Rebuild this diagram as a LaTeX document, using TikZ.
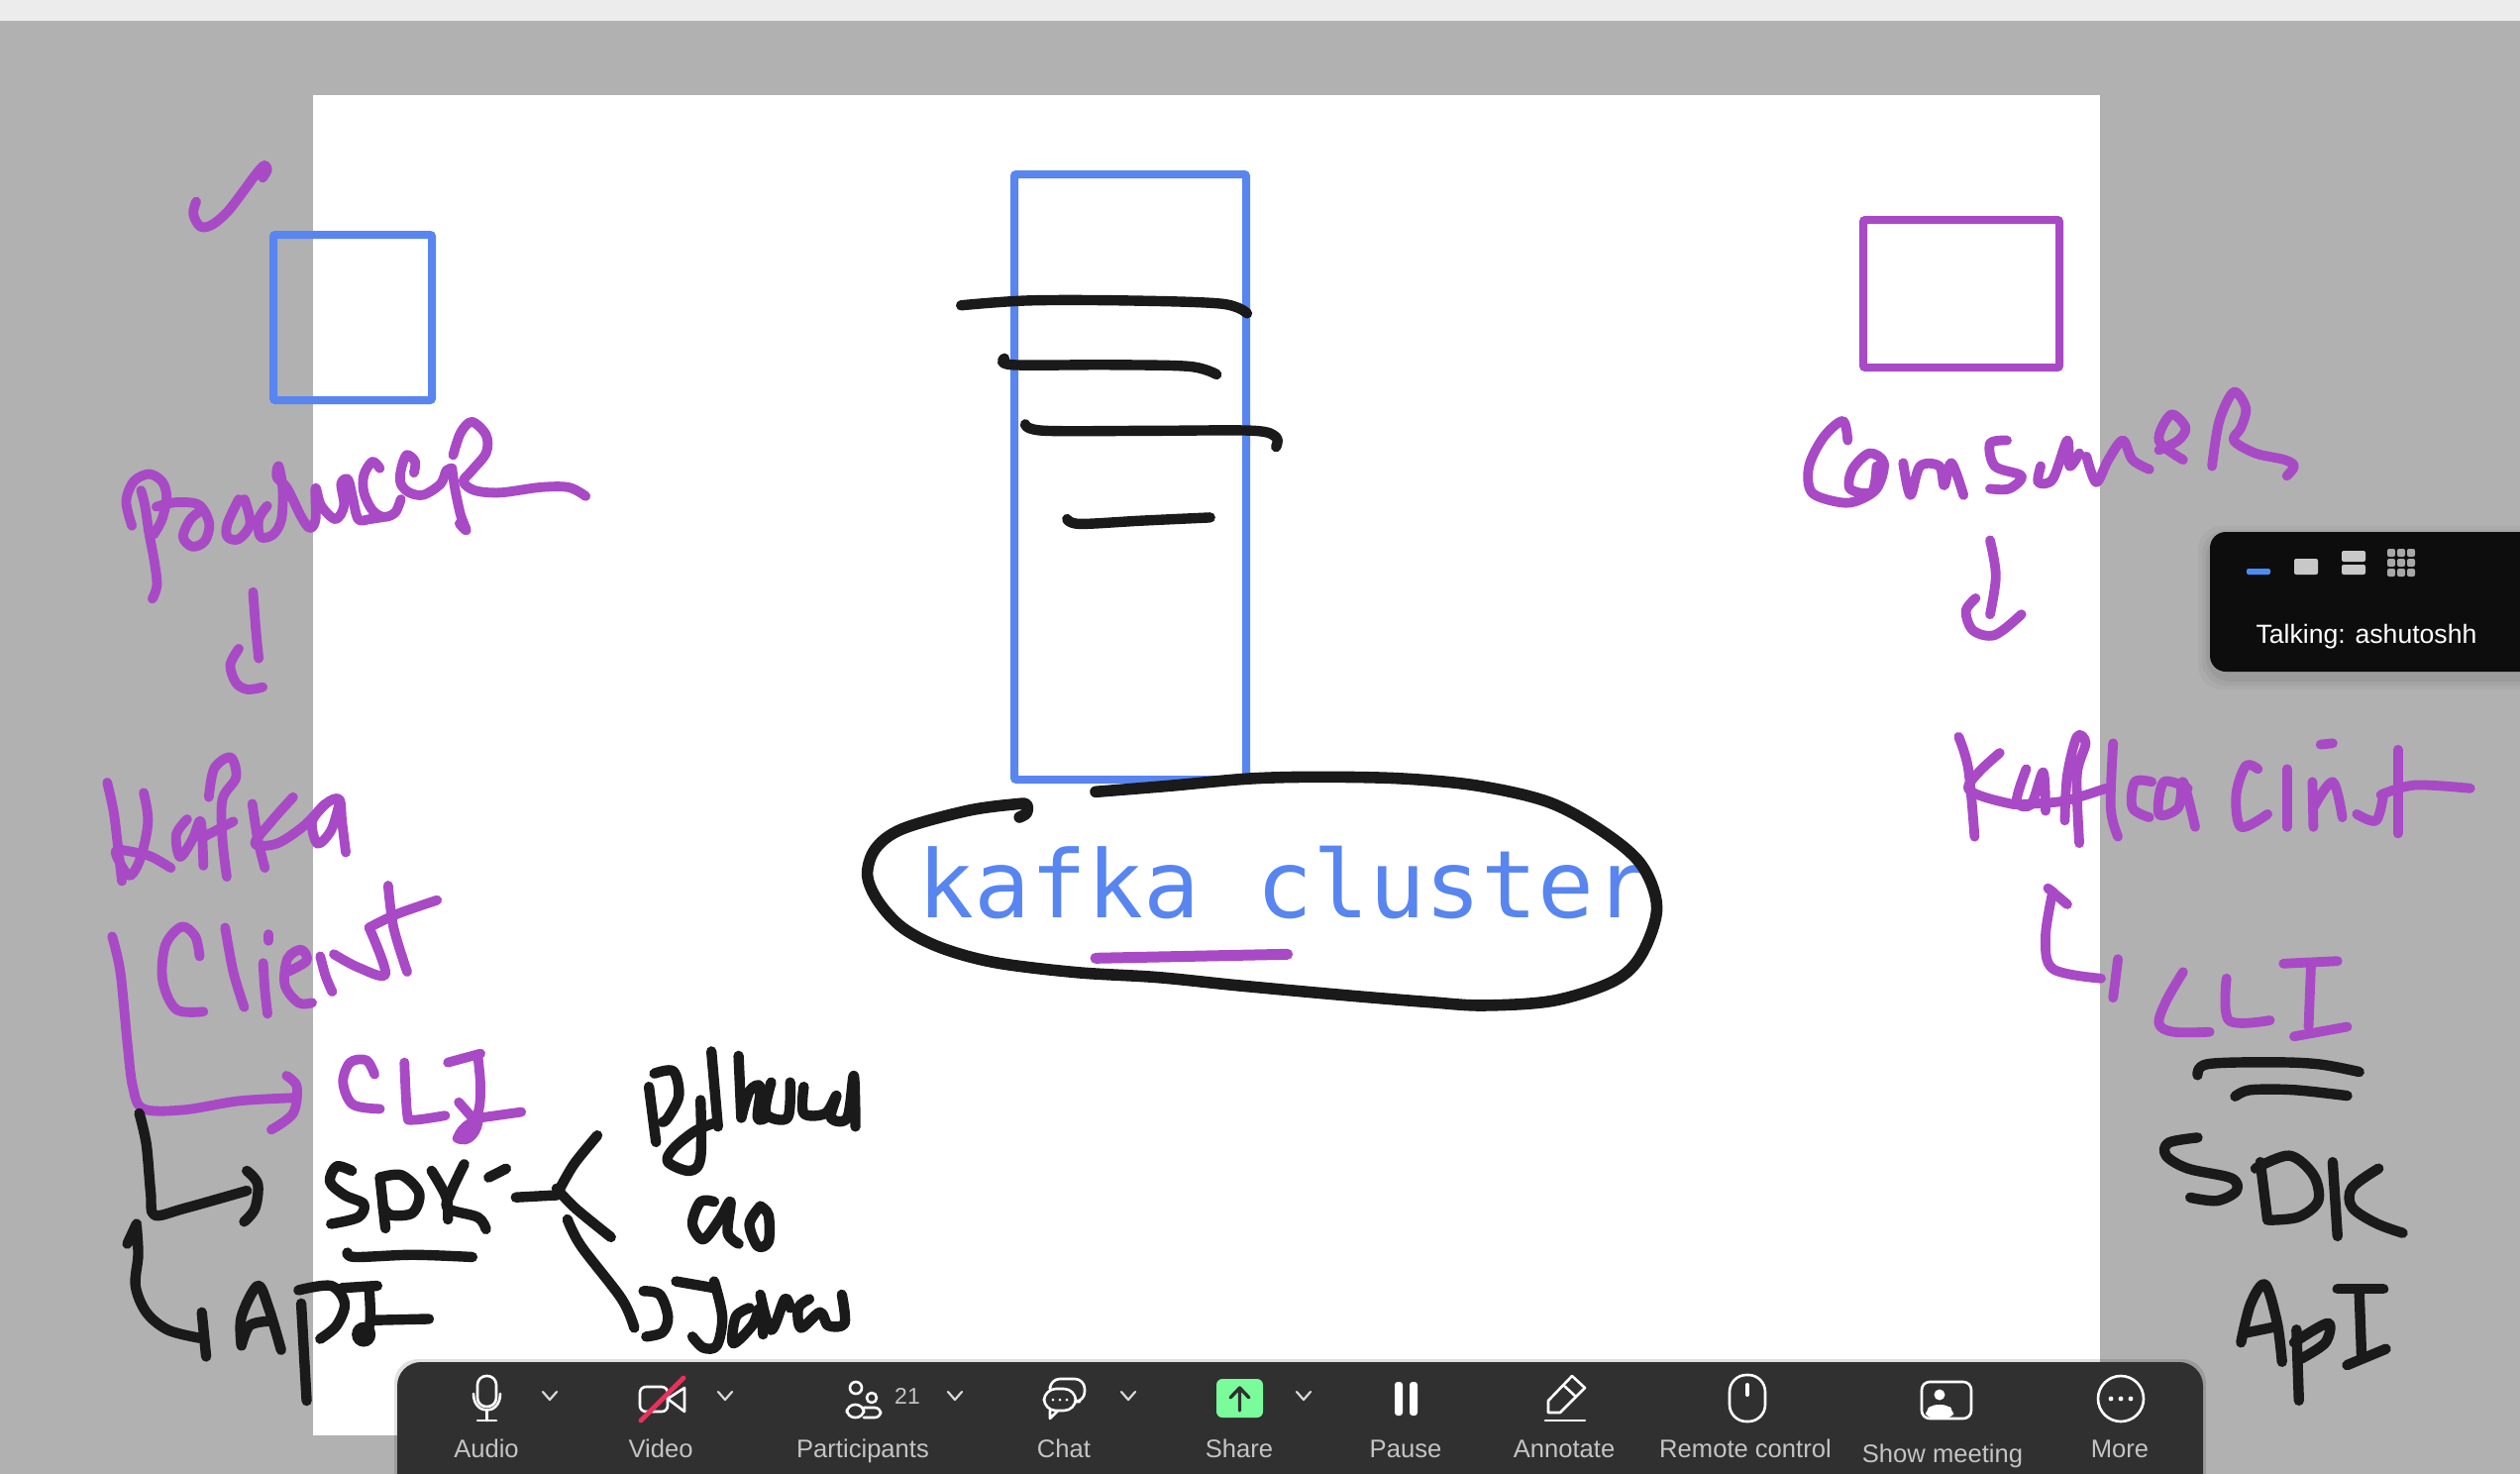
\documentclass[tikz,border=0pt]{standalone}
\usepackage{fontspec}
\setmainfont{Liberation Sans}
\newfontfamily\monofam{DejaVu Sans Mono}
\definecolor{pgray}{HTML}{B1B1B1}
\definecolor{topbar}{HTML}{ECECEC}
\definecolor{inkblue}{HTML}{5885EF}
\definecolor{inkpurple}{HTML}{A84AC5}
\definecolor{inkblack}{HTML}{1A1A1A}
\definecolor{barbg}{HTML}{303030}
\definecolor{barlabel}{HTML}{C4C4C4}
\definecolor{slash}{HTML}{E8315A}
\definecolor{sharegreen}{HTML}{7BFC9B}
\definecolor{tbg}{HTML}{0D0D0D}
\definecolor{tblue}{HTML}{4A8CF7}
\definecolor{tlight}{HTML}{C8C8C8}
\definecolor{tgrid}{HTML}{A8A8A8}
\tikzset{
  inkbase/.style={line cap=round,line join=round,fill=none},
  pur/.style={inkbase,draw=inkpurple,line width=4.9pt},
  blk/.style={inkbase,draw=inkblack,line width=5.2pt},
  boxblue/.style={draw=inkblue,line width=4pt,rounded corners=1pt},
  boxpur/.style={draw=inkpurple,line width=4pt,rounded corners=1pt},
  barlbl/.style={text=barlabel,font=\fontsize{12.8}{15}\selectfont,inner sep=0pt,anchor=base},
  icon/.style={draw=white,line width=1.3pt,fill=none,line cap=round,line join=round},
  chev/.style={draw=white!85!black,line width=1.1pt,fill=none,line cap=round,line join=round},
  zoomA/.style={shift={(0,100)},xscale=.574,yscale=.4464},
  zoomB/.style={shift={(60,740)},xscale=.5485,yscale=.4464},
  zoomC/.style={shift={(1780,360)},xscale=.4872,yscale=.6505},
  zoomE/.style={shift={(840,750)},xscale=.5485,yscale=.3333},
  disp/.style={scale=1.6224}
}
\newcommand{\pst}[1]{\draw[pur] plot[smooth,tension=.55] coordinates {#1};}
\newcommand{\bst}[1]{\draw[blk] plot[smooth,tension=.55] coordinates {#1};}
\begin{document}
\begin{tikzpicture}[x=0.5pt,y=-0.5pt]
\useasboundingbox (0,0) rectangle (2544,1488);
\fill[pgray] (0,0) rectangle (2544,1488);
\fill[topbar] (0,0) rectangle (2544,21);
\fill[white] (316,96) rectangle (2120,1449);
% boards
\draw[boxblue] (276,237) rectangle (436,404);
\draw[boxblue] (1024,176) rectangle (1258,787);
\draw[boxpur] (1881,222) rectangle (2079,371);
% kafka cluster
\node[anchor=base west,inner sep=0pt,text=inkblue,font=\monofam\fontsize{47.3}{50}\selectfont] (cluster) at (926,926) {kafka cluster};
% lines inside the tall box
\begin{scope}[disp]
\bst{(598,190)(640,187)(700,187)(760,189)(776,195)}
\bst{(625,223)(630,227)(690,227)(740,228)(757,233)}
\bst{(638,264)(650,268)(720,268)(780,268)(794,272)(794,278)}
\bst{(664,323)(672,326)(710,324)(753,322)}
\end{scope}
% ellipse
\begin{scope}[zoomE]
\draw[inkbase,draw=inkpurple,line width=5.5pt] (485,652) -- (838,640);
\draw[blk,line width=5.8pt] plot[smooth,tension=.55] coordinates {(345,225)(358,212)(358,187)(340,185)(250,205)(130,260)(80,320)(65,400)(85,480)(130,560)(200,620)(300,665)(450,695)(600,710)(750,735)(950,765)(1100,785)(1200,795)(1330,780)(1440,720)(1490,640)(1518,500)(1490,370)(1420,270)(1320,180)(1190,130)(1050,108)(900,103)(770,108)(620,130)(485,148)};
\end{scope}
% check mark, Producer
\begin{scope}[zoomA]
\pst{(345,232)(340,260)(352,288)(372,285)(400,255)(430,205)(450,170)(465,150)(470,160)(462,178)}
\pst{(232,965)(222,910)(235,865)(262,848)(285,865)(293,900)(285,950)(270,985)}
\pst{(248,885)(255,920)(262,980)(272,1050)(276,1100)(268,1130)}
\pst{(275,922)(310,912)(350,918)(368,960)(360,1000)(338,1012)(322,990)(335,950)(355,930)}
\pst{(420,905)(400,960)(400,990)(420,995)(440,960)(430,905)}
\pst{(470,920)(455,950)(458,990)(480,985)(495,950)(497,880)(490,830)(487,855)(505,880)(530,945)(545,970)(555,950)(555,880)(565,920)(590,950)(605,920)(600,870)(612,860)(620,900)(630,950)(650,950)(675,945)}
\pst{(668,835)(655,820)(640,850)(640,890)(655,930)(675,945)(695,935)(705,905)}
\pst{(728,845)(730,820)(715,805)(705,840)(705,870)(720,890)(745,895)(775,870)(785,840)(795,835)}
\pst{(795,835)(800,880)(810,940)(820,975)(808,960)}
\pst{(797,805)(810,755)(830,730)(855,760)(855,800)(830,840)(815,865)(835,885)(880,890)(950,878)(1000,878)(1030,898)}
\pst{(445,1115)(450,1200)(455,1265)}
\pst{(420,1243)(405,1280)(415,1320)(435,1335)(462,1330)}
\end{scope}
% left column
\begin{scope}[zoomB]
% Kafka
\pst{(88,112)(100,180)(108,260)(115,335)}
\pst{(155,135)(163,200)(150,280)(130,322)(110,290)(105,265)(140,270)(170,280)(205,305)}
\pst{(235,195)(215,230)(222,280)(245,240)(260,200)(265,300)}
\pst{(275,145)(285,80)(315,55)(325,100)(300,150)(300,240)(308,325)}
\pst{(265,235)(320,200)}
\pst{(355,160)(365,240)(378,305)}
\pst{(430,145)(390,200)(360,250)(400,250)(450,210)(490,160)(515,150)(520,200)(527,270)}
\pst{(490,160)(465,200)(475,250)(500,220)(515,160)}
% Client
\pst{(258,505)(250,460)(225,438)(195,480)(190,560)(215,625)(265,630)}
\pst{(305,440)(320,540)(340,620)}
\pst{(385,455)(385,470)}
\pst{(375,520)(378,580)(383,635)}
\pst{(420,540)(455,515)(445,490)(420,510)(415,570)(440,610)(465,610)}
\pst{(480,505)(490,550)(502,585)}
\pst{(505,500)(550,530)(600,545)(570,440)}
\pst{(605,345)(615,440)(640,540)}
\pst{(570,440)(620,410)(695,378)}
% CLI arrow
\pst{(97,460)(112,540)(125,700)(135,800)(155,850)(230,852)(330,832)(430,825)}
\pst{(418,775)(437,800)(430,860)(390,897)}
\pst{(580,772)(565,740)(535,745)(522,790)(540,840)(590,850)}
\pst{(635,745)(640,860)(650,875)(710,865)}
\pst{(715,745)(775,725)}
\pst{(770,730)(775,800)(770,860)(745,905)}
\pst{(735,835)(760,870)}
\pst{(775,870)(850,857)}
\fill[inkpurple] (725,910) .. controls (735,880) and (760,860) .. (780,870) .. controls (780,905) and (760,935) .. (740,930) .. controls (725,928) and (720,920) .. (725,910) -- cycle;
% SDK arrow
\bst{(147,860)(160,930)(168,1040)(175,1090)(230,1075)(345,1035)}
\bst{(345,990)(365,1020)(360,1075)(340,1105)}
\bst{(538,990)(510,980)(498,1015)(525,1045)(560,1065)(550,1095)(500,1110)}
\bst{(590,1005)(600,1120)}
\bst{(590,1005)(630,1000)(662,1040)(650,1085)(610,1090)(595,1070)}
\bst{(685,990)(712,1050)(715,1100)}
\bst{(745,975)(720,1040)(715,1075)(770,1095)(785,1122)}
\bst{(790,1005)(822,985)}
\bst{(840,1050)(915,1045)}
\bst{(915,1045)(930,1010)(950,970)(990,910)}
\bst{(915,1030)(950,1075)(1015,1140)}
\bst{(935,1100)(960,1160)(1035,1280)(1058,1345)}
\bst{(530,1175)(545,1185)(650,1180)(760,1185)}
% Python
\bst{(1085,800)(1098,925)}
\bst{(1095,770)(1130,765)(1140,820)(1120,870)(1110,880)}
\bst{(1180,830)(1180,960)(1160,990)(1120,970)(1130,940)(1170,900)(1210,880)}
\bst{(1200,720)(1212,890)}
\bst{(1250,730)(1255,870)}
\bst{(1255,870)(1270,810)(1290,800)(1285,870)(1300,870)}
\bst{(1310,790)(1300,860)(1340,870)(1345,790)}
\bst{(1370,800)(1370,860)(1410,860)(1430,820)(1420,870)(1450,870)(1462,775)(1465,890)}
% Go
\bst{(1205,1060)(1180,1060)(1165,1110)(1185,1145)(1215,1100)(1235,1060)(1230,1130)(1250,1155)}
\bst{(1290,1070)(1270,1110)(1285,1160)(1305,1150)(1305,1090)(1290,1070)}
% Java
\bst{(1075,1262)(1105,1270)(1120,1320)(1110,1355)(1080,1365)}
\bst{(1135,1240)(1205,1255)}
\bst{(1205,1240)(1220,1320)(1210,1385)(1185,1390)(1165,1365)}
\bst{(1270,1300)(1245,1320)(1240,1380)(1275,1340)(1290,1300)(1295,1360)}
\bst{(1290,1270)(1310,1350)(1335,1280)(1345,1300)}
\bst{(1380,1280)(1360,1300)(1365,1345)(1400,1310)(1415,1340)(1445,1335)(1440,1270)}
% API
\bst{(142,1115)(145,1180)(140,1250)(160,1310)(200,1350)(258,1368)}
\bst{(125,1155)(142,1110)}
\bst{(262,1310)(270,1410)}
\bst{(335,1385)(335,1320)(365,1250)(385,1300)(408,1395)}
\bst{(335,1385)(350,1340)(385,1330)}
\bst{(445,1290)(450,1400)(455,1510)}
\bst{(440,1260)(500,1250)(525,1290)(510,1340)(480,1370)}
\bst{(520,1255)(585,1250)}
\bst{(570,1255)(572,1330)(560,1375)}
\bst{(572,1328)(680,1325)}
\fill[inkblack] (560,1360) ellipse (22 and 28);
\end{scope}
% right column
\begin{scope}[zoomC]
% Consumer
\pst{(175,130)(165,100)(125,125)(95,170)(100,210)(150,225)(190,225)(235,205)(250,165)(220,150)(185,175)(180,205)(225,210)(235,170)}
\pst{(290,165)(305,215)(325,170)(365,170)(375,200)(390,165)(415,215)}
\pst{(505,130)(470,135)(480,170)(535,185)(510,205)(470,205)}
\pst{(575,170)(570,195)(600,190)(630,130)(635,170)(655,150)}
\pst{(670,155)(690,195)(715,160)(745,130)(765,160)(800,175)}
\pst{(820,145)(860,130)(875,110)(845,90)(820,130)(870,160)}
\pst{(930,170)(945,100)(975,55)(1000,80)(990,110)(975,130)(1020,150)(1080,160)(1100,170)(1085,185)}
\pst{(470,285)(482,340)(470,400)}
\pst{(440,375)(420,395)(435,425)(480,432)(535,400)}
% Kafka Client
\pst{(405,590)(425,640)(438,745)}
\pst{(490,615)(425,670)(520,695)}
\pst{(545,640)(525,690)(555,695)(580,645)(585,705)}
\pst{(625,720)(630,650)(650,590)(668,600)(650,650)(655,755)}
\pst{(520,695)(620,690)(710,670)}
\pst{(725,600)(720,700)(735,745)}
\pst{(805,660)(770,660)(765,700)(800,715)}
\pst{(880,670)(830,660)(820,710)(860,700)(870,660)(895,730)}
\pst{(1025,640)(1000,635)(980,680)(990,730)(1045,710)}
\pst{(1085,640)(1085,730)}
\pst{(1155,602)(1180,600)}
\pst{(1138,660)(1140,730)}
\pst{(1140,700)(1180,660)(1200,715)}
\pst{(1230,710)(1270,720)(1285,680)}
\pst{(1315,610)(1315,740)}
\pst{(1280,680)(1350,665)(1465,670)}
% hook, CLI
\pst{(590,825)(630,850)}
\pst{(600,830)(585,900)(600,950)(700,965)}
\pst{(735,935)(725,995)}
\pst{(870,955)(835,1000)(820,1035)(850,1048)(925,1048)}
\pst{(960,965)(965,1030)(1050,1030)}
\pst{(1078,942)(1190,938)}
\pst{(1135,945)(1130,1040)}
\pst{(1100,1055)(1210,1040)}
% black underlines, SDK, API
\bst{(900,1115)(920,1098)(1050,1095)(1150,1098)(1235,1110)}
\bst{(978,1148)(1010,1138)(1100,1138)(1210,1147)}
\bst{(900,1212)(840,1220)(835,1240)(880,1260)(970,1275)(980,1295)(940,1310)(885,1305)}
\bst{(1030,1250)(1045,1340)}
\bst{(1020,1260)(1090,1240)(1140,1270)(1150,1310)(1110,1335)(1050,1340)}
\bst{(1180,1250)(1190,1365)}
\bst{(1275,1260)(1220,1290)(1220,1320)(1270,1345)(1325,1360)}
\bst{(990,1530)(1010,1470)(1040,1440)(1065,1500)(1075,1560)}
\bst{(1000,1515)(1065,1505)}
\bst{(1105,1510)(1110,1620)}
\bst{(1100,1530)(1170,1500)(1165,1530)(1115,1555)}
\bst{(1190,1447)(1285,1447)}
\bst{(1235,1450)(1240,1555)}
\bst{(1210,1565)(1290,1540)}
\end{scope}
% Talking panel
\foreach \g/\o in {12/.03,8/.04,4/.05}{
  \fill[black,opacity=\o,rounded corners=12pt] (2231-\g,537-\g+6) rectangle (2580,678+\g+6);
}
\fill[tbg,rounded corners=8pt] (2231,537) rectangle (2580,678);
\fill[tblue,rounded corners=1pt] (2268,574) rectangle (2292,580);
\fill[tlight,rounded corners=1pt] (2316,564) rectangle (2340,580);
\fill[tlight,rounded corners=1pt] (2364,556) rectangle (2388,567);
\fill[tlight,rounded corners=1pt] (2364,570) rectangle (2388,580);
\foreach \i in {0,1,2}{\foreach \j in {0,1,2}{
  \fill[tgrid,rounded corners=1pt] (2410+\i*10,554+\j*10) rectangle +(8,8);
}}
\node[anchor=base,inner sep=0pt,text=white,font=\fontsize{13.3}{15}\selectfont] (talking) at (2389,649) {Talking: ashutoshh};
% toolbar
\fill[black,opacity=.12,rounded corners=12pt] (398,1372) rectangle (2227,1520);
\fill[barbg,rounded corners=12pt] (401,1375) rectangle (2224,1530);
\node[barlbl] (audio) at (491,1471) {Audio};
\node[barlbl] (video) at (667,1471) {Video};
\node[barlbl] (participants) at (871,1471) {Participants};
\node[barlbl] (chat) at (1074,1471) {Chat};
\node[barlbl] (share) at (1251,1471) {Share};
\node[barlbl] (pause) at (1419,1471) {Pause};
\node[barlbl] (annotate) at (1579,1471) {Annotate};
\node[barlbl] (remote) at (1762,1471) {Remote control};
\node[barlbl] (showm) at (1961,1476) {Show meeting};
\node[barlbl] (more) at (2140,1471) {More};
% mic
\draw[icon,rounded corners=4.5pt] (482,1389) rectangle (501,1420);
\draw[icon] (478,1407) .. controls (478,1429) and (505,1429) .. (505,1407);
\draw[icon] (491.5,1424) -- (491.5,1434) (482,1434) -- (501,1434);
% chevrons
\foreach \cx in {555,732,964,1139,1316}{
  \draw[chev] (\cx-7,1405) -- (\cx,1413) -- (\cx+7,1405);
}
% video
\draw[icon,rounded corners=3pt] (646,1400) rectangle (674,1425);
\draw[icon] (674,1412) -- (691,1401) -- (691,1425) -- cycle;
\draw[slash,line width=2.4pt,line cap=round] (647,1434) -- (690,1391);
% participants
\draw[icon] (864,1401) circle (6);
\draw[icon] (880,1411) circle (5);
\draw[icon,rounded corners=4pt] (855,1431) -- (855,1418) -- (872,1418) -- (872,1431) -- cycle;
\draw[icon,rounded corners=3pt] (872,1421) -- (889,1421) -- (889,1431) -- (872,1431);
\node[anchor=base,inner sep=0pt,text=barlabel,font=\fontsize{11.5}{13}\selectfont] (pcount) at (916,1417) {21};
% chat
\draw[icon,rounded corners=5pt] (1060,1400) -- (1060,1392) -- (1095,1392) -- (1095,1415) -- (1090,1415);
\draw[icon,rounded corners=6pt] (1054,1402) rectangle (1086,1424);
\draw[icon] (1060,1424) -- (1060,1432) -- (1068,1424);
\foreach \dx in {1063,1070,1077}{\fill[white] (\dx,1413) circle (1.5);}
% share
\fill[sharegreen,rounded corners=3pt] (1228,1392) rectangle (1275,1431);
\draw[barbg,line width=1.7pt,line cap=round,line join=round] (1251.5,1424) -- (1251.5,1402) (1242,1411) -- (1251.5,1401) -- (1261,1411);
% pause
\fill[white,rounded corners=1.5pt] (1408,1395) rectangle (1416,1429);
\fill[white,rounded corners=1.5pt] (1423,1395) rectangle (1431,1429);
% annotate
\draw[icon] (1563,1426) -- (1563,1414) -- (1587,1389) -- (1600,1401) -- (1575,1426) -- cycle;
\draw[icon] (1578,1398) -- (1591,1410);
\draw[icon] (1560,1434) -- (1600,1434);
% remote control
\draw[icon,rounded corners=8.5pt] (1746,1388) rectangle (1782,1435);
\draw[icon,line width=2pt] (1764,1398) -- (1764,1408);
% show meeting
\draw[icon,rounded corners=4pt] (1940,1395) rectangle (1990,1432);
\fill[white] (1958,1408) circle (5.5);
\fill[white,rounded corners=3pt] (1944,1431) -- (1944,1424) -- (1950,1418) -- (1966,1418) -- (1972,1424) -- (1972,1431) -- cycle;
% more
\draw[icon] (2141,1412) circle (23);
\foreach \dx in {2131,2141,2151}{\fill[white] (\dx,1412) circle (2.4);}
\end{tikzpicture}
\end{document}
